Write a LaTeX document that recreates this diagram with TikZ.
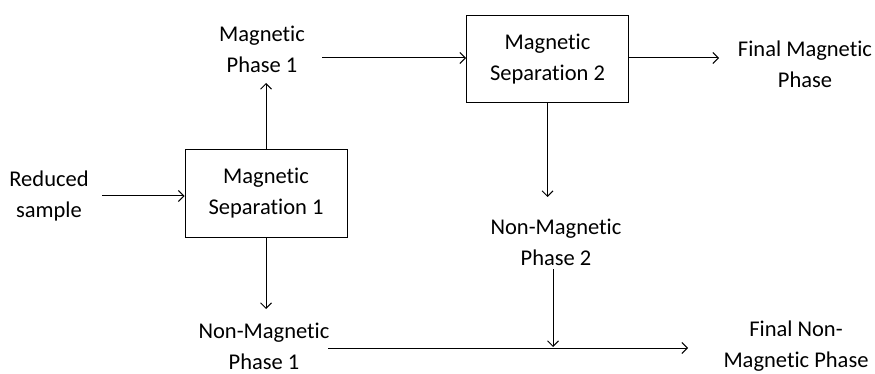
\documentclass[tikz,border=0pt]{standalone}
\usepackage{fontspec}
\setmainfont{Carlito}[Ligatures=NoCommon]
\usetikzlibrary{arrows.meta}
\begin{document}
\begin{tikzpicture}[x=1pt,y=-1pt,
  every node/.style={font=\fontsize{22.5}{31}\selectfont, align=center, inner sep=0pt},
  procbox/.style={draw, line width=1pt, minimum width=162pt, minimum height=87pt},
  conn/.style={line width=1pt},
  arr/.style={conn, -{Straight Barb[length=5.5pt,width=11pt]}}]
\useasboundingbox (0,0) rectangle (875,374);
\node[procbox] (box1) at (266,193.5) {Magnetic\\Separation 1};
\node[procbox] (box2) at (547.5,59) {Magnetic\\Separation 2};
\node (red) at (49,196) {Reduced\\sample};
\node (mp1) at (262,49) {Magnetic\\Phase 1};
\node (fm) at (805,64) {Final Magnetic\\Phase};
\node (nmp2) at (556,242) {Non-Magnetic\\Phase 2};
\node (nmp1) at (264,346) {Non-Magnetic\\Phase 1};
\node (fnm) at (796,346) {Final Non-\\Magnetic Phase};
\coordinate (a1s) at (102,196);
\coordinate (a2e) at (266,83);
\coordinate (a3s) at (322,58);
\coordinate (a4e) at (719,58);
\coordinate (a5e) at (547.5,197);
\coordinate (a6s) at (553,269);
\coordinate (a6e) at (553,347);
\coordinate (a7e) at (266,309);
\coordinate (a8s) at (328,348);
\coordinate (a8e) at (688,348);
\draw[arr] (a1s) -- (a1s -| box1.west);
\draw[arr] (box1.north) -- (a2e);
\draw[arr] (a3s) -- (a3s -| box2.west);
\draw[arr] (box2.east |- a4e) -- (a4e);
\draw[arr] (box2.south) -- (a5e);
\draw[arr] (a6s) -- (a6e);
\draw[arr] (box1.south) -- (a7e);
\draw[arr] (a8s) -- (a8e);
\end{tikzpicture}
\end{document}
